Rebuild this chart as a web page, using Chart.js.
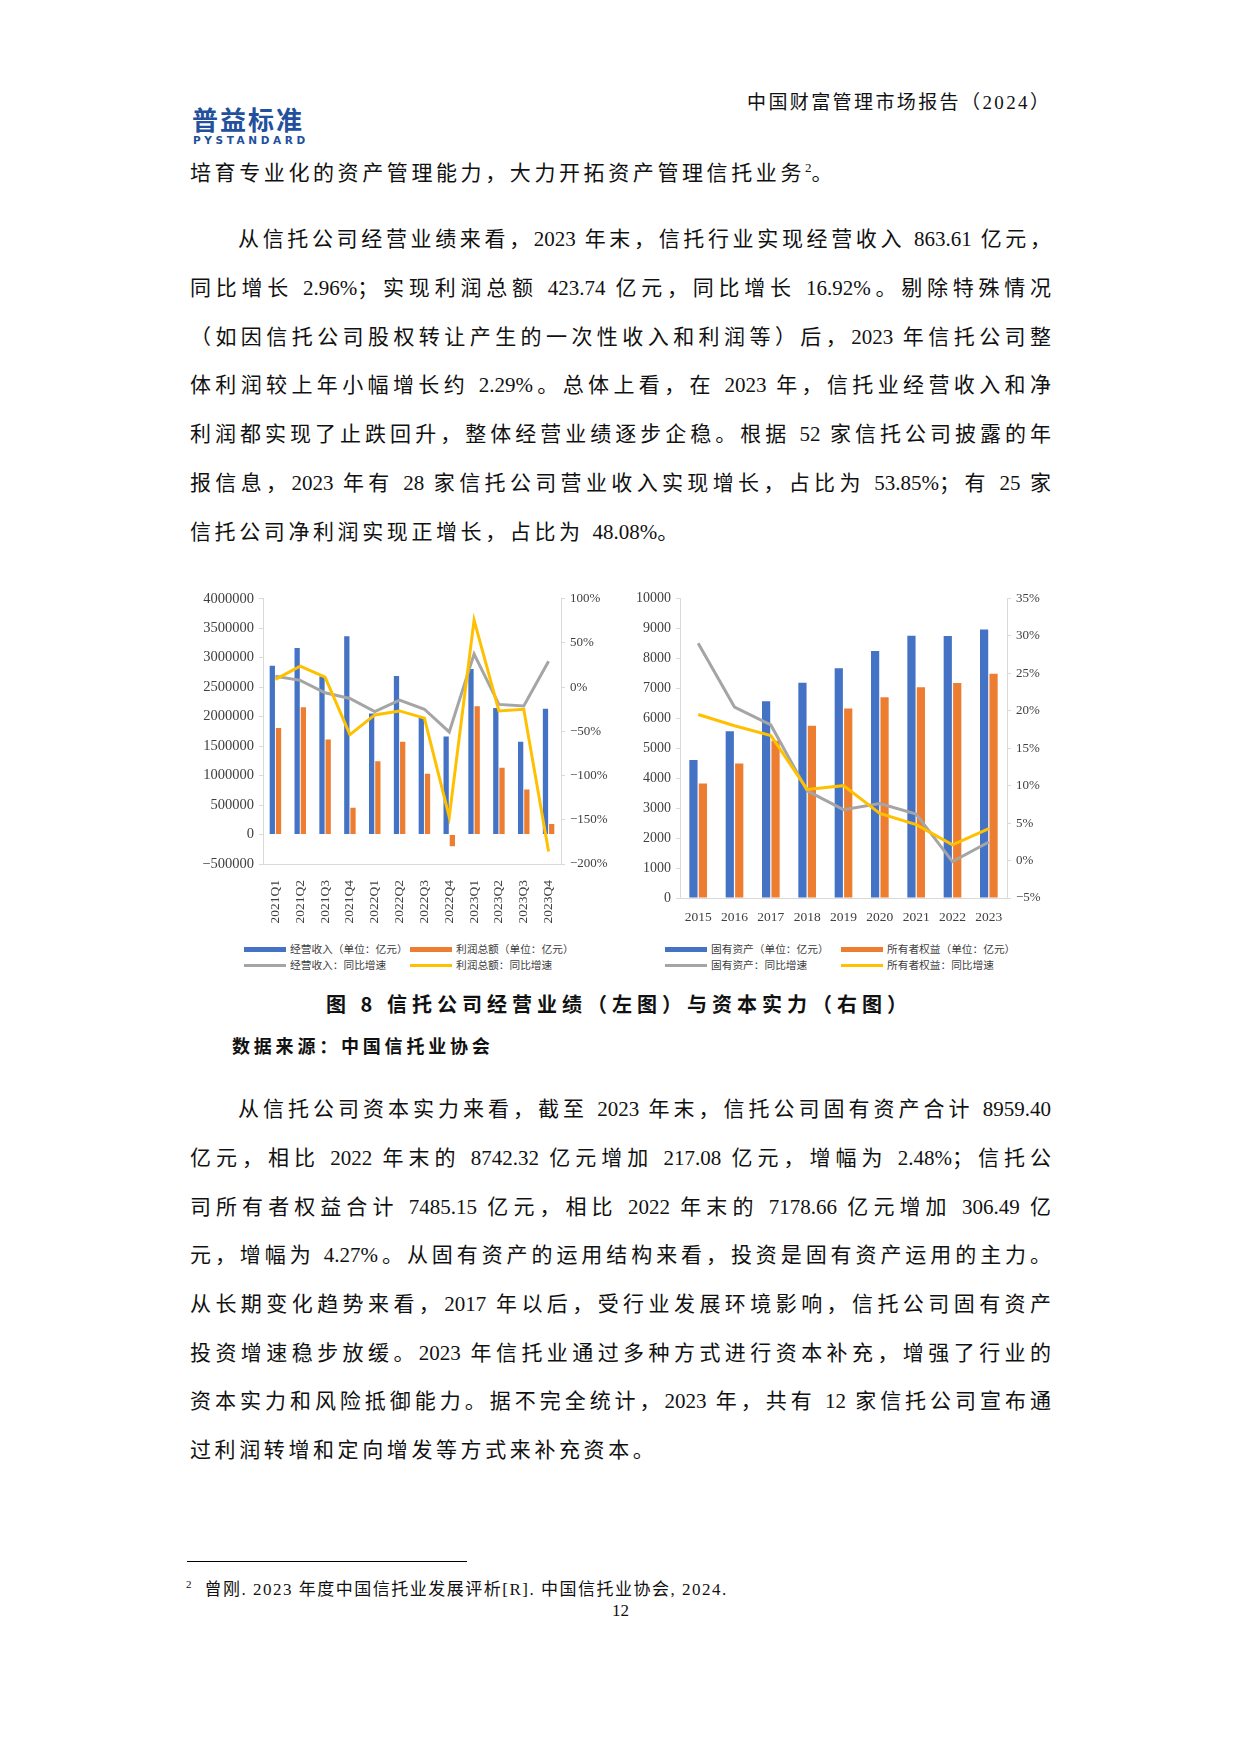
<!DOCTYPE html>
<html>
<head>
<meta charset="utf-8">
<script src="https://cdn.jsdelivr.net/npm/chart.js@4.4.1/dist/chart.umd.min.js"></script>
<style>
  body { margin: 0; background: #fff; }
  #page { position: relative; width: 1240px; height: 1754px; overflow: hidden; background: #fff;
          font-family: "Liberation Serif", "Noto Sans CJK SC", serif; color: #111; }
  .abs { position: absolute; }
  .ln { position: absolute; left: 190px; width: 861px; height: 30px; line-height: 30px; font-size: 21px;
        text-align: justify; text-align-last: justify; white-space: nowrap; }
  .ln sup { font-size: 13px; }
  .ln.last { text-align-last: left; letter-spacing: 3.6px; }
  .ln.last .en { letter-spacing: 0; }
  .ln.ind { left: 238px; width: 813px; }
  .leg { position: absolute; font-family: "Noto Sans CJK SC", sans-serif; font-size: 10.7px; color: #404040;
         line-height: 14px; white-space: nowrap; }
  .sw { position: absolute; }
</style>
</head>
<body>
<div id="page">
  <div class="abs" style="left:192px;top:104px;font-family:'Noto Sans CJK SC';font-weight:bold;font-size:26px;letter-spacing:2px;color:#22509c;line-height:30px;">普益标准</div>
  <div class="abs" style="left:193px;top:133px;font-family:'DejaVu Sans';font-weight:bold;font-size:10.5px;letter-spacing:3.6px;color:#22509c;line-height:14px;">PYSTANDARD</div>
  <div class="abs" style="left:747px;top:90px;font-size:19px;letter-spacing:2.4px;line-height:26px;">中国财富管理市场报告（2024）</div>

  <div id="text"></div>

  <canvas id="left" class="abs" width="420" height="340" style="left:190px;top:585px;"></canvas>
  <canvas id="right" class="abs" width="430" height="340" style="left:625px;top:585px;"></canvas>
  <div id="legL"></div>
  <div id="legR"></div>

  <div class="abs" style="left:4px;width:1230px;top:990px;text-align:center;font-family:'Noto Sans CJK SC';font-weight:bold;font-size:20px;letter-spacing:5px;line-height:28px;">图 8 信托公司经营业绩（左图）与资本实力（右图）</div>
  <div class="abs" style="left:232px;top:1032px;font-family:'Noto Sans CJK SC';font-weight:bold;font-size:18px;letter-spacing:3.8px;line-height:26px;">数据来源：中国信托业协会</div>

  <div class="abs" style="left:187px;top:1561px;width:280px;height:1px;background:#000;"></div>
  <div class="abs" style="left:186px;top:1573px;font-size:17px;letter-spacing:1.5px;line-height:22px;"><sup style="font-size:11px;">2</sup>&nbsp; 曾刚. 2023 年度中国信托业发展评析[R]. 中国信托业协会, 2024.</div>
  <div class="abs" style="left:612px;top:1601px;font-size:17px;line-height:20px;">12</div>
</div>

<script>
// 左图：信托公司经营业绩（季度）
const quarters = ['2021Q1','2021Q2','2021Q3','2021Q4','2022Q1','2022Q2','2022Q3','2022Q4','2023Q1','2023Q2','2023Q3','2023Q4'];
const revenue = [2862000, 3164000, 2679000, 3365000, 2054000, 2690000, 1981000, 1663000, 2807000, 2148000, 1574000, 2132000];
const profit = [1808000, 2160000, 1613000, 452000, 1244000, 1574000, 1032000, -200000, 2176000, 1133000, 765000, 179000];
const revenueYoY = [12.2, 7.7, -6.4, -12.8, -27.7, -14.6, -25.0, -50.7, 37.5, -19.5, -21.3, 29.3];
const profitYoY = [8.8, 23.7, 11.4, -53.8, -31.4, -26.9, -35.1, -146.8, 75.8, -26.9, -25.0, -185.9];

// 右图：资本实力（年度）
const years = ['2015','2016','2017','2018','2019','2020','2021','2022','2023'];
const assets = [4603, 5563, 6567, 7185, 7671, 8245, 8753, 8742, 8959];
const equity = [3819, 4492, 5250, 5750, 6324, 6700, 7031, 7179, 7485];
const assetsYoY = [29.0, 20.5, 18.1, 9.3, 6.8, 7.6, 6.2, -0.15, 2.48];
const equityYoY = [19.5, 18.0, 16.7, 9.5, 10.0, 6.3, 4.8, 2.1, 4.27];

const BLUE = '#4472C4', ORANGE = '#ED7D31', GRAY = '#A5A5A5', YELLOW = '#FFC000';
const AXIS = '#d9d9d9', TICK = '#404040';

// 正文
const paras = [
  {start: 167.5, indent: false, lines: ['培育专业化的资产管理能力，大力开拓资产管理信托业务<sup>2</sup>。']},
  {start: 239.3, indent: true, lines: [
    '从信托公司经营业绩来看，2023 年末，信托行业实现经营收入 863.61 亿元，',
    '同比增长 2.96%；实现利润总额 423.74 亿元，同比增长 16.92%。剔除特殊情况',
    '（如因信托公司股权转让产生的一次性收入和利润等）后，2023 年信托公司整',
    '体利润较上年小幅增长约 2.29%。总体上看，在 2023 年，信托业经营收入和净',
    '利润都实现了止跌回升，整体经营业绩逐步企稳。根据 52 家信托公司披露的年',
    '报信息，2023 年有 28 家信托公司营业收入实现增长，占比为 53.85%；有 25 家',
    '信托公司净利润实现正增长，占比为 48.08%。']},
  {start: 1109.2, indent: true, lines: [
    '从信托公司资本实力来看，截至 2023 年末，信托公司固有资产合计 8959.40',
    '亿元，相比 2022 年末的 8742.32 亿元增加 217.08 亿元，增幅为 2.48%；信托公',
    '司所有者权益合计 7485.15 亿元，相比 2022 年末的 7178.66 亿元增加 306.49 亿',
    '元，增幅为 4.27%。从固有资产的运用结构来看，投资是固有资产运用的主力。',
    '从长期变化趋势来看，2017 年以后，受行业发展环境影响，信托公司固有资产',
    '投资增速稳步放缓。2023 年信托业通过多种方式进行资本补充，增强了行业的',
    '资本实力和风险抵御能力。据不完全统计，2023 年，共有 12 家信托公司宣布通',
    '过利润转增和定向增发等方式来补充资本。']}
];
const LINE_GAP = 48.7;
let html = '';
paras.forEach(p => {
  p.lines.forEach((t, i) => {
    let cls = 'ln';
    if (p.indent && i === 0) cls += ' ind';
    if (i === p.lines.length - 1) {
      cls += ' last';
      t = t.replace(/([0-9.%]+)/g, '<span class="en">$1</span>');
    }
    const top = p.start + i * LINE_GAP - 15;
    html += '<div class="' + cls + '" style="top:' + top + 'px">' + t + '</div>';
  });
});
document.getElementById('text').innerHTML = html;

function fmtNum(v) { return (v < 0 ? '−' : '') + Math.abs(v); }
function fmtPct(v) { return (v < 0 ? '−' : '') + Math.abs(v) + '%'; }

function yAxis(pos, min, max, step, fmt, w, size) {
  return {
    position: pos, min: min, max: max,
    ticks: {stepSize: step, callback: fmt, color: TICK, padding: 5, font: {family: 'Liberation Serif', size: size}},
    grid: {drawOnChartArea: false, drawTicks: true, tickLength: 4, color: AXIS},
    border: {color: AXIS},
    afterFit: s => { s.width = w; }
  };
}
function xAxis(rot, pad, h) {
  return {
    grid: {display: false},
    border: {display: true, color: AXIS},
    ticks: {autoSkip: false, minRotation: rot, maxRotation: rot, padding: pad, color: TICK,
            font: {family: 'Liberation Serif', size: 13.5}},
    afterFit: s => { s.height = h; }
  };
}

function makeChart(id, labels, bars, lines, names, scales, barOpts) {
  const ds = [
    {type: 'bar', label: names[0], data: bars[0], backgroundColor: BLUE, yAxisID: 'y', order: 3},
    {type: 'bar', label: names[1], data: bars[1], backgroundColor: ORANGE, yAxisID: 'y', order: 3},
    {type: 'line', label: names[2], data: lines[0], borderColor: GRAY, backgroundColor: GRAY, borderWidth: 3,
     pointRadius: 0, yAxisID: 'y1', order: 2},
    {type: 'line', label: names[3], data: lines[1], borderColor: YELLOW, backgroundColor: YELLOW, borderWidth: 3,
     pointRadius: 0, yAxisID: 'y1', order: 1}
  ];
  ds[0].categoryPercentage = ds[1].categoryPercentage = barOpts[0];
  ds[0].barPercentage = ds[1].barPercentage = barOpts[1];
  return new Chart(document.getElementById(id).getContext('2d'), {
    data: {labels: labels, datasets: ds},
    options: {
      responsive: false, animation: false, devicePixelRatio: 1,
      layout: {padding: {top: 11, left: 0, right: 0, bottom: 0}},
      plugins: {legend: {display: false}, tooltip: {enabled: false}},
      scales: scales
    }
  });
}

const chartL = makeChart('left', quarters, [revenue, profit], [revenueYoY, profitYoY],
  ['经营收入（单位：亿元）', '利润总额（单位：亿元）', '经营收入：同比增速', '利润总额：同比增速'],
  {
    x: xAxis(90, 8, 61),
    y: yAxis('left', -500000, 4000000, 500000, fmtNum, 73, 14.5),
    y1: yAxis('right', -200, 100, 50, fmtPct, 49, 13)
  }, [0.5, 0.85]);

const chartR = makeChart('right', years, [assets, equity], [assetsYoY, equityYoY],
  ['固有资产（单位：亿元）', '所有者权益（单位：亿元）', '固有资产：同比增速', '所有者权益：同比增速'],
  {
    x: xAxis(0, 3, 27),
    y: yAxis('left', 0, 10000, 1000, fmtNum, 55, 14),
    y1: yAxis('right', -5, 35, 5, fmtPct, 48, 13)
  }, [0.52, 0.87]);

// 图例（两行两列），从数据集生成
function legend(chart, el, cols) {
  const rows = [949, 965];
  let h = '';
  chart.data.datasets.forEach((d, i) => {
    const r = Math.floor(i / 2), c = i % 2;
    const isBar = d.type === 'bar';
    const th = isBar ? 5 : 3;
    const color = isBar ? d.backgroundColor : d.borderColor;
    h += '<div class="sw" style="left:' + cols[c] + 'px;top:' + (rows[r] - th / 2) + 'px;width:42px;height:' + th + 'px;background:' + color + '"></div>';
    h += '<div class="leg" style="left:' + (cols[c] + 46) + 'px;top:' + (rows[r] - 7) + 'px">' + d.label + '</div>';
  });
  document.getElementById(el).innerHTML = h;
}
legend(chartL, 'legL', [244, 410]);
legend(chartR, 'legR', [665, 841]);
</script>
</body>
</html>
